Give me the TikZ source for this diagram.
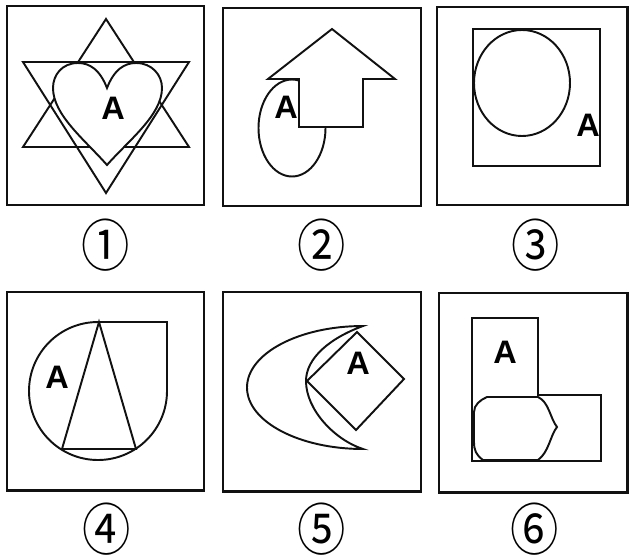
\documentclass[tikz,border=0pt]{standalone}
\usepackage{fontspec}
\setmainfont{Liberation Sans}
\newfontfamily\cjk{Noto Sans CJK SC}
\usepackage{xcolor}
\definecolor{inkblack}{HTML}{111111}
\newcommand{\circnum}[1]{\scalebox{0.86}[1]{#1}}

\begin{document}
\begin{tikzpicture}[x=0.02cm, y=-0.02cm,
  panel/.style={draw=inkblack, line width=1.7pt},
  figline/.style={draw=inkblack, line width=1.1pt, line join=miter},
  letter/.style={inner sep=0pt, font=\bfseries\fontsize{18.5}{18.5}\selectfont},
  numlabel/.style={inner sep=0pt, font=\cjk\fontsize{32}{32}\selectfont}]
  \useasboundingbox (0,0) rectangle (632,558);
  % panel frames
  \draw[panel] (7,6) rectangle (204,205);
  \draw[panel] (223,8) rectangle (421,206);
  \draw[panel] (437,7) rectangle (627,205);
  \draw[panel] (7,292) rectangle (204,490);
  \draw[panel] (223,292) rectangle (421,491);
  \draw[panel] (439,293) rectangle (627,492);
  % 1: star and heart
  \draw[figline] (106,19) -- (189,147) -- (23,147) -- cycle;
  \draw[figline] (23,62) -- (189,62) -- (106,193) -- cycle;
  \draw[figline, fill=white] (107,88) .. controls (100,70) and (90,63) .. (78,63)
    .. controls (62,63) and (53,75) .. (53,88)
    .. controls (53,115) and (85,140) .. (107,165)
    .. controls (129,140) and (162,115) .. (162,88)
    .. controls (162,75) and (152,63) .. (136,63)
    .. controls (124,63) and (114,70) .. (107,88) -- cycle;
  \node[letter] (a1) at (113,108) {A};
  % 2: ellipse under arrow
  \draw[figline] (292,128) ellipse[x radius=33.5, y radius=48.5];
  \node[letter] (a2) at (286,107) {A};
  \draw[figline, fill=white] (299,127) -- (299,79) -- (268,79) -- (332,29)
    -- (395,79) -- (363,79) -- (363,127) -- cycle;
  % 3: circle in square
  \draw[figline] (473,29) rectangle (600,166);
  \draw[figline] (522,83) ellipse[x radius=48, y radius=53];
  \node[letter] (a3) at (588,125) {A};
  % 4: drop with triangle
  \draw[figline] (99,322) -- (167,322) -- (167,391)
    arc[start angle=0, end angle=270, radius=69] -- cycle;
  \draw[figline] (99,322) -- (62,449) -- (136,449) -- cycle;
  \node[letter] (a4) at (57,377) {A};
  % 5: crescent and diamond
  \draw[figline] (363,326) arc[start angle=270, end angle=90, x radius=116, y radius=61.5]
    .. controls (335,440) and (306,410) .. (306,381)
    .. controls (306,358) and (330,338) .. (363,326) -- cycle;
  \draw[figline, fill=white] (307,381) -- (357,332) -- (404,379) -- (356,430) -- cycle;
  \node[letter] (a5) at (358,363) {A};
  % 6: L shape and blob
  \draw[figline] (472,318) -- (538,318) -- (538,395) -- (601,395) -- (601,461)
    -- (472,461) -- cycle;
  \draw[figline, fill=white] (487,397) -- (538,397)
    .. controls (549,402) and (550,418) .. (557,427)
    .. controls (550,436) and (549,452) .. (538,460) -- (483,460)
    .. controls (476,455) and (474,450) .. (474,442) -- (474,412)
    .. controls (474,405) and (480,400) .. (487,397) -- cycle;
  \node[letter] (a6) at (505,352) {A};
  % numbers
  \node[numlabel] (n1) at (106,245) {\circnum{①}};
  \node[numlabel] (n2) at (322,245) {\circnum{②}};
  \node[numlabel] (n3) at (536,245) {\circnum{③}};
  \node[numlabel] (n4) at (107,529) {\circnum{④}};
  \node[numlabel] (n5) at (322,529) {\circnum{⑤}};
  \node[numlabel] (n6) at (535,529) {\circnum{⑥}};
\end{tikzpicture}
\end{document}
